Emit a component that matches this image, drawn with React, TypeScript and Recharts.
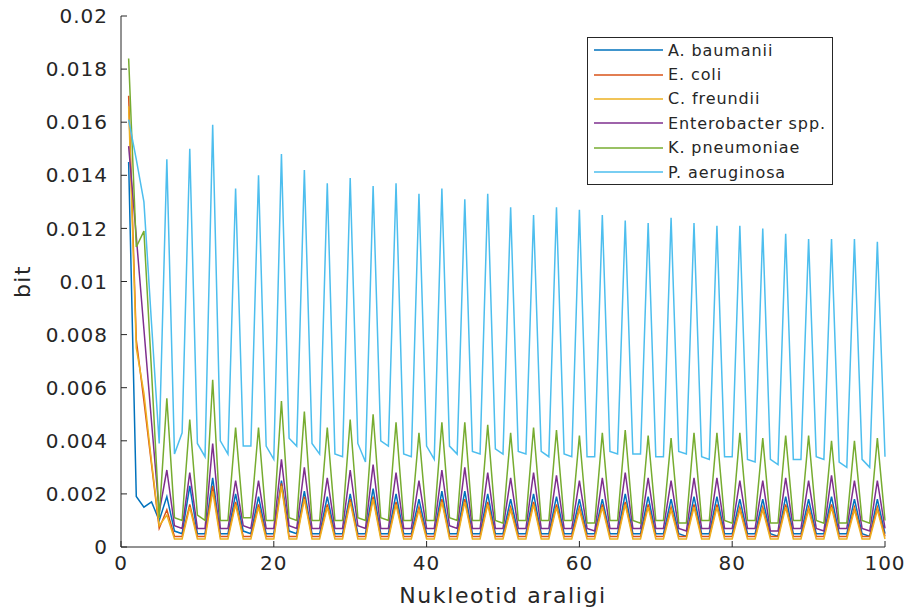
import { LineChart, Line, XAxis, YAxis } from "recharts";

const FONT = '"DejaVu Sans", sans-serif';
const INK = "#262626";

// bit values per nucleotide position 1..100 (peaks every 3rd position)
const aBaumanii = [
  0.0145, 0.0019, 0.0015, 0.0017, 0.0010,
  0.0019, 0.0006, 0.0005, 0.0023, 0.0005, 0.0005, 0.0026, 0.0005, 0.0005,
  0.0020, 0.0006, 0.0005, 0.0019, 0.0005, 0.0005, 0.0025, 0.0006, 0.0005,
  0.0021, 0.0005, 0.0005, 0.0019, 0.0005, 0.0005, 0.0020, 0.0005, 0.0005,
  0.0022, 0.0005, 0.0005, 0.0020, 0.0005, 0.0005, 0.0018, 0.0005, 0.0005,
  0.0021, 0.0005, 0.0005, 0.0021, 0.0005, 0.0005, 0.0020, 0.0005, 0.0005,
  0.0018, 0.0005, 0.0005, 0.0020, 0.0005, 0.0005, 0.0019, 0.0005, 0.0005,
  0.0018, 0.0005, 0.0005, 0.0018, 0.0005, 0.0005, 0.0020, 0.0005, 0.0005,
  0.0019, 0.0005, 0.0005, 0.0018, 0.0005, 0.0004, 0.0019, 0.0005, 0.0005,
  0.0019, 0.0005, 0.0005, 0.0018, 0.0005, 0.0005, 0.0018, 0.0005, 0.0004,
  0.0019, 0.0005, 0.0005, 0.0018, 0.0005, 0.0005, 0.0019, 0.0005, 0.0005,
  0.0018, 0.0005, 0.0004, 0.0018, 0.0005,
];

const eColi = [
  0.0170, 0.0078, 0.0055, 0.0031, 0.0007,
  0.0014, 0.0004, 0.0004, 0.0016, 0.0004, 0.0004, 0.0023, 0.0004, 0.0004,
  0.0017, 0.0004, 0.0004, 0.0016, 0.0004, 0.0004, 0.0024, 0.0004, 0.0004,
  0.0019, 0.0004, 0.0004, 0.0016, 0.0004, 0.0004, 0.0018, 0.0004, 0.0004,
  0.0019, 0.0004, 0.0004, 0.0017, 0.0004, 0.0004, 0.0015, 0.0004, 0.0004,
  0.0018, 0.0004, 0.0004, 0.0018, 0.0004, 0.0004, 0.0017, 0.0004, 0.0004,
  0.0015, 0.0004, 0.0004, 0.0017, 0.0004, 0.0004, 0.0016, 0.0004, 0.0004,
  0.0015, 0.0004, 0.0004, 0.0016, 0.0004, 0.0004, 0.0017, 0.0004, 0.0004,
  0.0016, 0.0004, 0.0004, 0.0015, 0.0004, 0.0004, 0.0016, 0.0004, 0.0004,
  0.0016, 0.0004, 0.0004, 0.0015, 0.0004, 0.0004, 0.0015, 0.0004, 0.0004,
  0.0016, 0.0004, 0.0004, 0.0015, 0.0004, 0.0004, 0.0016, 0.0004, 0.0004,
  0.0015, 0.0004, 0.0004, 0.0015, 0.0004,
];

const cFreundii = [
  0.0166, 0.0075, 0.0058, 0.0032, 0.0008,
  0.0012, 0.0003, 0.0003, 0.0015, 0.0003, 0.0003, 0.0021, 0.0003, 0.0003,
  0.0016, 0.0003, 0.0003, 0.0015, 0.0003, 0.0003, 0.0023, 0.0003, 0.0003,
  0.0018, 0.0003, 0.0003, 0.0015, 0.0003, 0.0003, 0.0017, 0.0003, 0.0003,
  0.0018, 0.0003, 0.0003, 0.0016, 0.0003, 0.0003, 0.0014, 0.0003, 0.0003,
  0.0017, 0.0003, 0.0003, 0.0017, 0.0003, 0.0003, 0.0016, 0.0003, 0.0003,
  0.0014, 0.0003, 0.0003, 0.0016, 0.0003, 0.0003, 0.0015, 0.0003, 0.0003,
  0.0014, 0.0003, 0.0003, 0.0015, 0.0003, 0.0003, 0.0016, 0.0003, 0.0003,
  0.0015, 0.0003, 0.0003, 0.0014, 0.0003, 0.0003, 0.0015, 0.0003, 0.0003,
  0.0015, 0.0003, 0.0003, 0.0014, 0.0003, 0.0003, 0.0014, 0.0003, 0.0003,
  0.0015, 0.0003, 0.0003, 0.0014, 0.0003, 0.0003, 0.0015, 0.0003, 0.0003,
  0.0014, 0.0003, 0.0003, 0.0014, 0.0003,
];

const enterobacter = [
  0.0151, 0.0117, 0.0082, 0.0047, 0.0013,
  0.0029, 0.0008, 0.0007, 0.0028, 0.0007, 0.0007, 0.0039, 0.0007, 0.0007,
  0.0025, 0.0008, 0.0007, 0.0025, 0.0007, 0.0007, 0.0033, 0.0008, 0.0007,
  0.0030, 0.0007, 0.0007, 0.0026, 0.0007, 0.0007, 0.0029, 0.0008, 0.0007,
  0.0031, 0.0007, 0.0007, 0.0028, 0.0007, 0.0007, 0.0025, 0.0007, 0.0007,
  0.0029, 0.0008, 0.0007, 0.0030, 0.0007, 0.0007, 0.0028, 0.0007, 0.0007,
  0.0026, 0.0007, 0.0007, 0.0028, 0.0007, 0.0007, 0.0027, 0.0007, 0.0007,
  0.0025, 0.0007, 0.0006, 0.0026, 0.0007, 0.0007, 0.0028, 0.0007, 0.0007,
  0.0026, 0.0007, 0.0007, 0.0025, 0.0007, 0.0006, 0.0026, 0.0007, 0.0007,
  0.0026, 0.0007, 0.0007, 0.0025, 0.0007, 0.0007, 0.0025, 0.0006, 0.0006,
  0.0026, 0.0007, 0.0007, 0.0025, 0.0007, 0.0006, 0.0027, 0.0007, 0.0007,
  0.0025, 0.0007, 0.0006, 0.0025, 0.0007,
];

const kPneumoniae = [
  0.0184, 0.0113, 0.0119, 0.0066, 0.0011,
  0.0056, 0.0011, 0.0010, 0.0048, 0.0012, 0.0010, 0.0063, 0.0010, 0.0010,
  0.0045, 0.0011, 0.0011, 0.0045, 0.0010, 0.0010, 0.0055, 0.0011, 0.0010,
  0.0051, 0.0010, 0.0010, 0.0045, 0.0010, 0.0010, 0.0048, 0.0011, 0.0010,
  0.0050, 0.0011, 0.0010, 0.0047, 0.0010, 0.0010, 0.0043, 0.0010, 0.0010,
  0.0047, 0.0011, 0.0010, 0.0047, 0.0010, 0.0010, 0.0046, 0.0010, 0.0009,
  0.0043, 0.0010, 0.0010, 0.0045, 0.0010, 0.0010, 0.0044, 0.0010, 0.0010,
  0.0042, 0.0009, 0.0009, 0.0043, 0.0010, 0.0010, 0.0044, 0.0010, 0.0009,
  0.0042, 0.0010, 0.0010, 0.0041, 0.0009, 0.0009, 0.0043, 0.0010, 0.0010,
  0.0043, 0.0010, 0.0009, 0.0043, 0.0010, 0.0010, 0.0041, 0.0009, 0.0009,
  0.0042, 0.0010, 0.0010, 0.0042, 0.0010, 0.0009, 0.0040, 0.0009, 0.0009,
  0.0040, 0.0010, 0.0009, 0.0041, 0.0010,
];

const pAeruginosa = [
  0.0161, 0.0146, 0.0130, 0.0084, 0.0039,
  0.0146, 0.0035, 0.0043, 0.0150, 0.0039, 0.0034, 0.0159, 0.0040, 0.0035,
  0.0135, 0.0038, 0.0038, 0.0140, 0.0038, 0.0033, 0.0148, 0.0041, 0.0038,
  0.0142, 0.0039, 0.0035, 0.0137, 0.0035, 0.0034, 0.0139, 0.0039, 0.0032,
  0.0136, 0.0040, 0.0038, 0.0137, 0.0035, 0.0034, 0.0133, 0.0038, 0.0033,
  0.0135, 0.0038, 0.0035, 0.0131, 0.0036, 0.0035, 0.0133, 0.0037, 0.0035,
  0.0128, 0.0036, 0.0035, 0.0125, 0.0036, 0.0034, 0.0128, 0.0035, 0.0034,
  0.0127, 0.0034, 0.0034, 0.0125, 0.0036, 0.0035, 0.0123, 0.0035, 0.0035,
  0.0122, 0.0034, 0.0034, 0.0124, 0.0036, 0.0035, 0.0122, 0.0034, 0.0033,
  0.0121, 0.0034, 0.0034, 0.0121, 0.0033, 0.0032, 0.0120, 0.0033, 0.0031,
  0.0118, 0.0033, 0.0033, 0.0116, 0.0034, 0.0033, 0.0116, 0.0032, 0.0030,
  0.0116, 0.0033, 0.0030, 0.0115, 0.0034,
];

const xTicks = [0, 20, 40, 60, 80, 100];
const yTicks = [0, 0.002, 0.004, 0.006, 0.008, 0.01, 0.012, 0.014, 0.016, 0.018, 0.02];

const series = [
  { key: "ab", name: "A. baumanii", color: "#0072BD" },
  { key: "ec", name: "E. coli", color: "#D95319" },
  { key: "cf", name: "C. freundii", color: "#EDB120" },
  { key: "en", name: "Enterobacter spp.", color: "#7E2F8E" },
  { key: "kp", name: "K. pneumoniae", color: "#77AC30" },
  { key: "pa", name: "P. aeruginosa", color: "#4DBEEE" },
];

const data = aBaumanii.map((v, i) => ({
  pos: i + 1,
  ab: v,
  ec: eColi[i],
  cf: cFreundii[i],
  en: enterobacter[i],
  kp: kPneumoniae[i],
  pa: pAeruginosa[i],
}));

const fmtY = (v: number) => String(Number(v.toFixed(3)));

// legend box drawn over the axes, like MATLAB's "northeast" legend
const LegendBox = () => (
  <div
    style={{
      position: "absolute",
      left: 587,
      top: 37,
      boxSizing: "border-box",
      width: 246,
      height: 148,
      border: `1px solid ${INK}`,
      background: "#fff",
      fontFamily: FONT,
      fontSize: 16,
      letterSpacing: 0.9,
      color: INK,
      paddingLeft: 6,
    }}
  >
    {series.map((s) => (
      <div key={s.key} style={{ display: "flex", alignItems: "center", height: 24.4 }}>
        <svg width={69} height={4} style={{ marginRight: 5, flex: "none" }}>
          <line x1={0} y1={2} x2={69} y2={2} stroke={s.color} strokeWidth={1.5} />
        </svg>
        <span style={{ whiteSpace: "nowrap" }}>{s.name}</span>
      </div>
    ))}
  </div>
);

const YLabel = ({ viewBox }: any) => {
  const cx = viewBox.x + 22;
  const cy = viewBox.y + viewBox.height / 2;
  return (
    <text
      x={cx}
      y={cy}
      transform={`rotate(-90 ${cx} ${cy})`}
      textAnchor="middle"
      dominantBaseline="central"
      fill={INK}
      fontFamily={FONT}
      fontSize={22}
      letterSpacing={1.5}
    >
      bit
    </text>
  );
};

export default function App() {
  const tickStyle = { fill: INK, fontSize: 20, fontFamily: FONT, letterSpacing: 1 };
  return (
    <div style={{ position: "absolute", left: 0, top: 0, width: 911, height: 612, background: "#fff" }}>
      <LineChart width={911} height={612} data={data} margin={{ top: 16, right: 26, left: 0, bottom: 0 }}>
        <XAxis
          dataKey="pos"
          type="number"
          domain={[0, 100]}
          ticks={xTicks}
          height={65}
          stroke={INK}
          tickSize={-6}
          tickMargin={15}
          tick={tickStyle}
          label={{
            value: "Nukleotid araligi",
            position: "insideBottom",
            offset: 9,
            fill: INK,
            fontSize: 22,
            fontFamily: FONT,
            letterSpacing: 1.6,
          }}
        />
        <XAxis
          xAxisId="top"
          orientation="top"
          type="number"
          dataKey="pos"
          domain={[0, 100]}
          ticks={xTicks}
          height={0}
          stroke={INK}
          tickSize={-6}
          tick={false}
        />
        <YAxis
          type="number"
          domain={[0, 0.02]}
          ticks={yTicks}
          width={121}
          stroke={INK}
          tickSize={-6}
          tickMargin={19}
          tick={tickStyle}
          tickFormatter={fmtY}
          label={{ content: YLabel }}
        />
        <YAxis
          yAxisId="right"
          orientation="right"
          type="number"
          domain={[0, 0.02]}
          ticks={yTicks}
          width={0}
          stroke={INK}
          tickSize={-6}
          tick={false}
        />
        {series.map((s) => (
          <Line
            key={s.key}
            dataKey={s.key}
            name={s.name}
            type="linear"
            stroke={s.color}
            strokeWidth={1.5}
            dot={false}
            activeDot={false}
            isAnimationActive={false}
          />
        ))}
      </LineChart>
      <LegendBox />
    </div>
  );
}
